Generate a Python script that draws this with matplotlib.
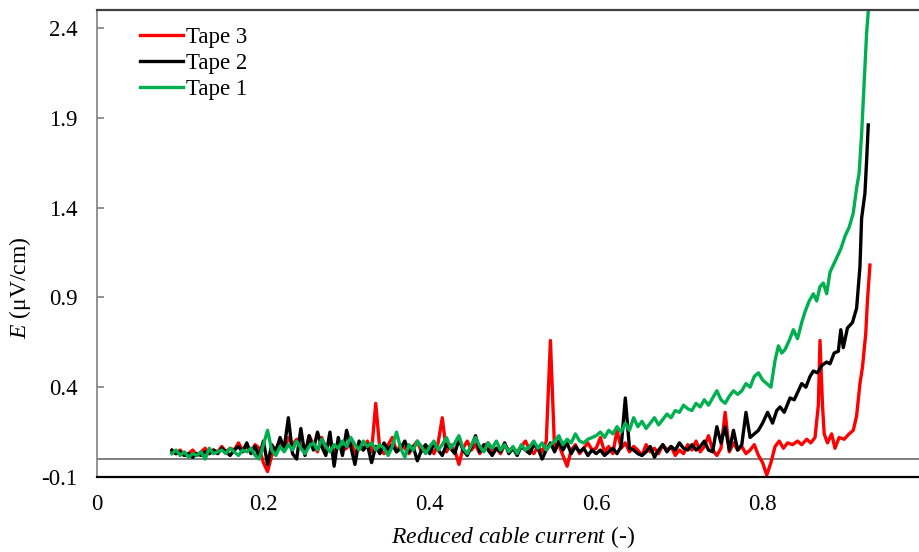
import numpy as np
import matplotlib
matplotlib.use('Agg')
import matplotlib.pyplot as plt

plt.rcParams['font.family'] = ['Liberation Serif', 'DejaVu Serif']
plt.rcParams['mathtext.fontset'] = 'custom'
plt.rcParams['mathtext.rm'] = 'Liberation Serif'
plt.rcParams['mathtext.it'] = 'Liberation Serif:italic'

# common sampling of reduced current for the noisy part (0.090 ... 0.795)
x_grid = np.round(0.09 + 0.005 * np.arange(142), 3)

tape3_noisy = [0.04, 0.03, 0.05, 0.02, 0.03, 0.05, 0.02, 0.04, 0.06, 0.03, 0.05, 0.04, 0.07, 0.04, 0.06, 0.05, 0.09, 0.05, 0.07, 0.04, 0.08, 0.06,
               -0.02, -0.07, 0.02, 0.06, 0.10, 0.05, 0.12, 0.08, 0.11, 0.07, 0.03, 0.13, 0.08, 0.04, 0.12, 0.06, 0.10, 0.03, 0.09, 0.05,
               0.06, 0.10, 0.03, 0.08, 0.05, 0.10, 0.04, 0.31, 0.05, 0.03, 0.08, 0.12, 0.04, 0.08, 0.06, 0.03, 0.07, 0.10, 0.04, 0.06,
               0.07, 0.03, 0.09, 0.23, 0.04, 0.08, 0.05, -0.03, 0.06, 0.10, 0.05, 0.08, 0.03, 0.07, 0.09, 0.04, 0.06, 0.03, 0.08, 0.05,
               0.06, 0.04, 0.07, 0.10, 0.05, 0.03, 0.07, 0.04, 0.10, 0.66, 0.05, 0.08, 0.02, -0.04, 0.05, 0.08, 0.03, 0.06, 0.09, 0.05,
               0.06, 0.12, 0.04, 0.07, 0.03, 0.16, 0.06, 0.09, 0.04, 0.07, 0.05, 0.02, 0.08, 0.04, 0.06, 0.03, 0.08, 0.05, 0.07, 0.02,
               0.05, 0.03, 0.08, 0.05, 0.10, 0.04, 0.07, 0.13, 0.05, 0.02, 0.06, 0.26, 0.04, 0.09, 0.05, 0.07, 0.03, 0.05, 0.08, 0.02]
tape2_noisy = [0.05, 0.03, 0.04, 0.02, 0.03, 0.01, 0.03, 0.02, 0.04, 0.03, 0.05, 0.03, 0.06, 0.04, 0.02, 0.05, 0.07, 0.04, 0.09, 0.03, 0.07, 0.01,
               0.10, -0.03, 0.08, 0.04, 0.12, 0.06, 0.23, 0.03, 0.00, 0.17, 0.02, 0.13, 0.05, 0.15, 0.07, 0.02, 0.15, -0.04, 0.12, 0.02,
               0.16, 0.07, -0.03, 0.10, 0.05, 0.08, -0.02, 0.07, 0.03, 0.09, 0.05, 0.08, 0.04, 0.06, 0.10, 0.04, 0.07, -0.01, 0.05, 0.08,
               0.03, 0.09, 0.05, 0.02, 0.08, 0.06, 0.03, 0.11, 0.05, 0.02, 0.07, 0.13, 0.04, 0.08, 0.05, 0.02, 0.06, 0.04, 0.09, 0.03,
               0.06, 0.02, 0.07, 0.05, 0.03, 0.08, 0.06, 0.00, 0.05, 0.09, 0.04, 0.10, 0.05, 0.09, 0.03, 0.07, 0.04, 0.06, 0.02, 0.05,
               0.03, 0.05, 0.02, 0.04, 0.06, 0.03, 0.07, 0.34, 0.06, 0.05, 0.03, 0.02, 0.04, 0.07, 0.01, 0.05, 0.08, 0.04, 0.07, 0.05,
               0.09, 0.06, 0.05, 0.08, 0.05, 0.07, 0.10, 0.05, 0.04, 0.18, 0.09, 0.18, 0.05, 0.16, 0.05, 0.08, 0.26, 0.12, 0.14, 0.16]
tape1_noisy = [0.03, 0.05, 0.02, 0.04, 0.01, 0.03, 0.02, 0.04, 0.00, 0.06, 0.03, 0.04, 0.05, 0.03, 0.06, 0.04, 0.02, 0.05, 0.04, 0.06, 0.02, 0.00,
               0.08, 0.16, 0.05, 0.02, 0.07, 0.04, 0.08, 0.05, 0.10, 0.06, 0.03, 0.07, 0.09, 0.05, 0.11, 0.07, 0.04, 0.08, 0.06, 0.10,
               0.07, 0.12, 0.08, 0.05, 0.10, 0.07, 0.09, 0.05, 0.08, 0.06, 0.02, 0.07, 0.15, 0.06, 0.01, 0.08, 0.05, 0.10, 0.07, 0.03,
               0.07, 0.10, 0.05, 0.08, 0.12, 0.06, 0.09, 0.13, 0.06, 0.03, 0.08, 0.12, 0.07, 0.04, 0.09, 0.06, 0.10, 0.05, 0.08, 0.04,
               0.07, 0.03, 0.08, 0.05, 0.07, 0.10, 0.06, 0.09, 0.05, 0.08, 0.10, 0.13, 0.08, 0.11, 0.09, 0.14, 0.10, 0.09, 0.11, 0.12,
               0.13, 0.15, 0.12, 0.16, 0.14, 0.18, 0.15, 0.20, 0.16, 0.23, 0.18, 0.21, 0.17, 0.20, 0.23, 0.19, 0.22, 0.25, 0.23, 0.27,
               0.26, 0.30, 0.28, 0.27, 0.31, 0.29, 0.33, 0.30, 0.34, 0.38, 0.33, 0.31, 0.35, 0.38, 0.36, 0.38, 0.42, 0.40, 0.46, 0.48]

# transition parts near the critical current
tape3_tail_x = [0.800, 0.805, 0.810, 0.815, 0.820, 0.825, 0.830, 0.836, 0.842, 0.847, 0.853, 0.858, 0.863, 0.867, 0.869,
                0.872, 0.874, 0.878, 0.883, 0.887, 0.892, 0.898, 0.904, 0.909, 0.913, 0.917, 0.920, 0.924, 0.926, 0.929]
tape3_tail_y = [-0.02, -0.09, -0.02, 0.07, 0.10, 0.06, 0.09, 0.08, 0.10, 0.08, 0.11, 0.09, 0.12, 0.30, 0.66,
                0.30, 0.14, 0.09, 0.14, 0.06, 0.12, 0.11, 0.14, 0.16, 0.24, 0.42, 0.51, 0.70, 0.88, 1.08]
tape2_tail_x = [0.800, 0.806, 0.812, 0.817, 0.821, 0.826, 0.833, 0.838, 0.843, 0.847, 0.852, 0.857, 0.861, 0.866, 0.871,
                0.877, 0.881, 0.886, 0.891, 0.894, 0.897, 0.902, 0.908, 0.913, 0.917, 0.919, 0.923, 0.925, 0.927]
tape2_tail_y = [0.20, 0.26, 0.20, 0.27, 0.29, 0.26, 0.34, 0.33, 0.38, 0.42, 0.40, 0.46, 0.49, 0.48, 0.52,
                0.54, 0.53, 0.59, 0.60, 0.72, 0.62, 0.73, 0.76, 0.84, 1.07, 1.34, 1.48, 1.66, 1.86]
tape1_tail_x = [0.800, 0.805, 0.810, 0.815, 0.819, 0.823, 0.827, 0.832, 0.837, 0.842, 0.847, 0.851, 0.856, 0.861, 0.865,
                0.869, 0.873, 0.877, 0.881, 0.885, 0.889, 0.894, 0.899, 0.904, 0.909, 0.913, 0.916, 0.919, 0.922, 0.925, 0.928]
tape1_tail_y = [0.44, 0.42, 0.40, 0.55, 0.63, 0.59, 0.61, 0.66, 0.72, 0.67, 0.76, 0.82, 0.88, 0.92, 0.88,
                0.96, 0.98, 0.92, 1.04, 1.08, 1.12, 1.17, 1.24, 1.29, 1.37, 1.51, 1.59, 1.81, 2.09, 2.37, 2.55]

x_ticks = [0, 0.2, 0.4, 0.6, 0.8, 1]
x_ticklabels = ['0', '0.2', '0.4', '0.6', '0.8', '1']
y_ticks = [-0.1, 0.4, 0.9, 1.4, 1.9, 2.4]

fig = plt.figure(figsize=(9.19, 5.52), dpi=100)
ax = fig.add_axes([97 / 919, 75 / 552, 832 / 919, 467 / 552])

ax.axhline(0, color='#808080', lw=1.4, zorder=1)

series = [('Tape 3', '#FF0000', tape3_noisy, tape3_tail_x, tape3_tail_y),
          ('Tape 2', '#000000', tape2_noisy, tape2_tail_x, tape2_tail_y),
          ('Tape 1', '#00B050', tape1_noisy, tape1_tail_x, tape1_tail_y)]
for name, color, noisy, tx, ty in series:
    xs = np.concatenate([x_grid, tx])
    ys = np.concatenate([noisy, ty])
    ax.plot(xs, ys, color=color, lw=2.4, label=name, zorder=2)

ax.set_xlim(0, 1)
ax.set_ylim(-0.1, 2.5)
ax.set_xticks(x_ticks)
ax.set_xticklabels(x_ticklabels)
ax.set_yticks(y_ticks)
ax.set_yticklabels(['%.1f' % v for v in y_ticks])

ax.spines['right'].set_visible(False)
ax.spines['top'].set_color('#404040')
ax.spines['top'].set_linewidth(1.6)
ax.spines['left'].set_color('#808080')
ax.spines['left'].set_linewidth(1.2)
ax.spines['bottom'].set_color('black')
ax.spines['bottom'].set_linewidth(1.6)

ax.tick_params(axis='y', direction='in', length=5, width=1.2, color='#808080', labelsize=16.5, pad=14)
ax.tick_params(axis='x', length=0, labelsize=16.5, pad=12)

ax.set_xlabel(r'$\it{Reduced\ cable\ current}$ (-)', fontsize=17, labelpad=7)
ax.set_ylabel(r'$\it{E}$ (μV/cm)', fontsize=17)
ax.yaxis.set_label_coords(-0.077, 0.405)

ax.legend(loc='upper left', bbox_to_anchor=(0.052, 0.963), frameon=False, fontsize=16.5,
          handlelength=1.85, handletextpad=0.15, labelspacing=0.22, borderpad=0, borderaxespad=0)

fig.savefig('out.png', dpi=100)
